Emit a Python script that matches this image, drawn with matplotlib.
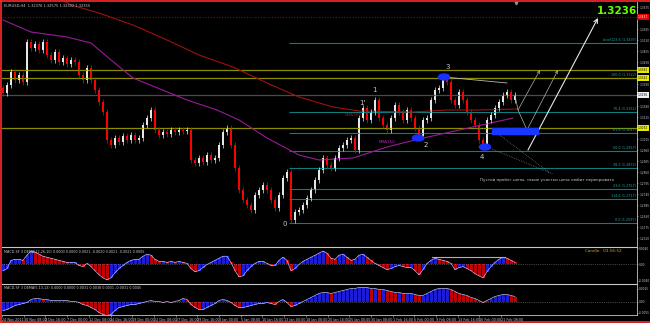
import numpy as np
import matplotlib.pyplot as plt
from matplotlib.patches import Ellipse, Rectangle
from matplotlib.lines import Line2D

plt.rcParams['font.family'] = ['DejaVu Sans']

############################# Data #############################

# EURUSD H4 closes (one candle drawn for every ~2.6 H4 bars of the screenshot)
v_close = [1.3247, 1.3287, 1.3352, 1.3312, 1.3337, 1.3302, 1.3502, 1.3472, 1.3492, 1.3462,
           1.3502, 1.3437, 1.3412, 1.3452, 1.3402, 1.3422, 1.3392, 1.3412, 1.3402, 1.3337,
           1.3312, 1.3372, 1.3312, 1.3262, 1.3202, 1.3152, 1.3012, 1.2987, 1.3022, 1.3002,
           1.3032, 1.3012, 1.3037, 1.3012, 1.3022, 1.3087, 1.3122, 1.3162, 1.3062, 1.3037,
           1.3052, 1.3042, 1.3062, 1.3052, 1.3062, 1.3057, 1.3062, 1.2912, 1.2897, 1.2922,
           1.2902, 1.2937, 1.2912, 1.2922, 1.2987, 1.3052, 1.3072, 1.2987, 1.2872, 1.2762,
           1.2712, 1.2687, 1.2662, 1.2737, 1.2762, 1.2787, 1.2762, 1.2712, 1.2672, 1.2737,
           1.2822, 1.2852, 1.2612, 1.2652, 1.2662, 1.2687, 1.2722, 1.2762, 1.2812, 1.2862,
           1.2922, 1.2887, 1.2872, 1.2922, 1.2972, 1.2987, 1.3012, 1.3022, 1.2962, 1.3122,
           1.3172, 1.3112, 1.3152, 1.3212, 1.3122, 1.3087, 1.3062, 1.3122, 1.3187, 1.3152,
           1.3112, 1.3162, 1.3122, 1.3072, 1.3032, 1.3112, 1.3122, 1.3212, 1.3262, 1.3272,
           1.3312, 1.3302, 1.3212, 1.3187, 1.3252, 1.3212, 1.3152, 1.3112, 1.3087, 1.3012,
           1.2987, 1.3112, 1.3137, 1.3172, 1.3202, 1.3237, 1.3252, 1.3212, 1.3236]
c_first_open = 1.3272

# MACD histograms (upper and lower sub-windows)
v_macd_1 = [-0.0015, -0.0010, 0.0010, 0.00125, 0.00125, 0.0010, 0.00225, 0.00325, 0.0030, 0.0025,
            0.0020, 0.00175, 0.0015, 0.00125, 0.0010, 0.00075, 0.0005, 0.0005, 0.0005, -0.00025,
            -0.0005, 0.00025, -0.0005, -0.0015, -0.0025, -0.00325, -0.00375, -0.00325, -0.0020, -0.0010,
            -0.00025, 0.0005, 0.0010, 0.00125, 0.00125, 0.0020, 0.0025, 0.00225, 0.00125, 0.00075,
            0.00075, 0.0005, 0.00075, 0.0005, 0.00075, 0.0005, 0.00025, -0.0010, -0.00175, -0.0015,
            -0.00075, 0.0, 0.0005, 0.0010, 0.0015, 0.0020, 0.0020, 0.0005, -0.0015, -0.0030,
            -0.00275, -0.0015, -0.0005, 0.00025, 0.00075, 0.00075, 0.00025, -0.00025, -0.00025, 0.0010,
            0.00175, 0.0010, -0.0015, -0.0010, 0.0, 0.00075, 0.00125, 0.00175, 0.00225, 0.00275,
            0.00325, 0.00275, 0.0015, 0.00125, 0.00225, 0.0025, 0.00175, 0.0010, 0.00125, 0.00225,
            0.0025, 0.00175, 0.0010, 0.00025, -0.00025, -0.00075, -0.00125, -0.0010, -0.0005, -0.00025,
            -0.0005, -0.00075, -0.00075, -0.0015, -0.0025, -0.00125, 0.00025, 0.0010, 0.0015, 0.00125,
            0.0010, 0.00075, 0.00025, -0.00125, -0.00075, -0.0005, -0.0010, -0.0015, -0.00225, -0.00275,
            -0.00325, -0.00175, -0.0005, 0.0005, 0.00125, 0.00175, 0.0015, 0.0010, 0.0005]
v_macd_2 = [-0.0045, -0.0040, -0.0030, -0.0020, -0.0015, -0.0010, -0.0005, 0.0010, 0.0015, 0.0015,
            0.0010, 0.0010, 0.0005, 0.0005, 0.0005, 0.0005, 0.0005, 0.0, 0.0, -0.0005,
            -0.0015, -0.0020, -0.0030, -0.0040, -0.0055, -0.0065, -0.0070, -0.0065, -0.0045, -0.0030,
            -0.0025, -0.0020, -0.0015, -0.0015, -0.0010, -0.0005, 0.0, 0.0005, 0.0, 0.0,
            -0.0005, 0.0, -0.0005, 0.0, 0.0005, 0.0015, 0.0010, -0.0015, -0.0030, -0.0040,
            -0.0040, -0.0030, -0.0020, -0.0010, 0.0005, 0.0010, 0.0005, -0.0005, -0.0020, -0.0030,
            -0.0030, -0.0025, -0.0020, -0.0015, -0.0010, -0.0010, -0.0005, -0.0010, -0.0015, 0.0,
            0.0010, -0.0005, -0.0025, -0.0020, -0.0010, 0.0, 0.0010, 0.0020, 0.0030, 0.0040,
            0.0045, 0.0045, 0.0040, 0.0045, 0.0050, 0.0055, 0.0060, 0.0065, 0.0065, 0.0070,
            0.0070, 0.0070, 0.0065, 0.0065, 0.0060, 0.0060, 0.0055, 0.0050, 0.0045, 0.0045,
            0.0040, 0.0040, 0.0040, 0.0035, 0.0030, 0.0030, 0.0040, 0.0050, 0.0060, 0.0065,
            0.0065, 0.0065, 0.0060, 0.0050, 0.0040, 0.0035, 0.0030, 0.0020, 0.0015, 0.0005,
            -0.0005, 0.0005, 0.0015, 0.0025, 0.0030, 0.0035, 0.0035, 0.0030, 0.0025]

# moving averages, read at a few candles (candle index, price)
v_ema365_idx = [14, 17, 24, 32.5, 41, 49, 57.5, 66, 74, 82.5, 89, 102.5, 111, 119, 128.5]
v_ema365 = [1.3722, 1.3687, 1.3647, 1.3587, 1.3512, 1.3437, 1.3377, 1.3297, 1.3227, 1.3177,
            1.3157, 1.3152, 1.3162, 1.3162, 1.3167]
v_ema150_idx = [0, 7, 16, 22, 27, 32.5, 46, 53.5, 59, 66, 74, 79, 87.5, 96, 104, 127.5]
v_ema150 = [1.3612, 1.3552, 1.3527, 1.3497, 1.3412, 1.3322, 1.3212, 1.3162, 1.3112, 1.3022,
            1.2937, 1.2912, 1.2922, 1.2977, 1.3017, 1.3122]

# Fibonacci grid
v_fib_levels = ['0.0', '14.6', '23.6', '38.2', '50.0', '61.8', '76.4', '100.0', '123.6']
v_fib_prices = [1.2597, 1.2717, 1.2767, 1.2872, 1.2957, 1.3047, 1.3152, 1.3322, 1.3497]
c_fib_start = 71.5

# horizontal levels
v_olive_levels = [1.3362, 1.3322, 1.3072]
c_red_level = 1.3627
c_bid = 1.3236

# wave marking
v_wave_labels = ['0', "1'", '1', '2', '3', '4']
v_wave_idx = [70.5, 89.75, 92.75, 105.75, 111.25, 119.75]
v_wave_price = [1.2592, 1.3197, 1.3262, 1.2987, 1.3377, 1.2927]
v_ell_idx = [103.75, 110.25, 120.5]
v_ell_price = [1.3022, 1.3327, 1.2977]

# date axis
v_dates = ['24 Nov 2011', '30 Nov 08:00', '2 Dec 16:00', '7 Dec 00:00', '12 Dec 08:00',
           '14 Dec 16:00', '19 Dec 00:00', '22 Dec 08:00', '27 Dec 16:00', '29 Dec 16:00',
           '3 Jan 00:00', '5 Jan 08:00', '10 Jan 16:00', '13 Jan 00:00', '18 Jan 08:00',
           '20 Jan 16:00', '25 Jan 00:00', '30 Jan 08:00', '1 Feb 16:00', '6 Feb 00:00',
           '9 Feb 08:00', '13 Feb 16:00', '16 Feb 00:00', '21 Feb 08:00']
c_date_step = 5.425

############################# Figure #############################

W, H = 650, 323
c_fg = '#c8c8c8'
c_xmin, c_xmax = -0.25, 158.5

fig = plt.figure(figsize=(W / 100, H / 100), dpi=100, facecolor='black')


def px_axes(x0, y0, x1, y1):
    return fig.add_axes([x0 / W, 1 - y1 / H, (x1 - x0) / W, (y1 - y0) / H], facecolor='black')


ax = px_axes(2, 2, 637, 246)
ax1 = px_axes(2, 247, 637, 283)
ax2 = px_axes(2, 284, 637, 315)

for a in (ax, ax1, ax2):
    a.set_xlim(c_xmin, c_xmax)
    for s in ('left', 'top', 'bottom'):
        a.spines[s].set_visible(False)
    a.spines['right'].set_color(c_fg)
    a.spines['right'].set_linewidth(0.6)
    a.yaxis.tick_right()
    a.tick_params(axis='y', labelsize=2.1, colors=c_fg, length=1, width=0.4, pad=0.6)
    a.tick_params(axis='x', bottom=False, labelbottom=False)
for a in (ax1, ax2):
    a.spines['top'].set_visible(True)
    a.spines['top'].set_color(c_fg)
    a.spines['top'].set_linewidth(0.8)

############################# Main chart #############################

v_marked = [c_red_level] + v_olive_levels + [c_bid]
ax.set_ylim(1.2482, 1.3702)
v_ticks = [t for t in np.arange(1.2520, 1.3700, 0.0055)
           if min(abs(t - m) for m in v_marked) > 0.0026]
ax.set_yticks(v_ticks)
ax.yaxis.set_major_formatter(plt.FormatStrFormatter('%.4f'))

# levels
ax.axhline(c_red_level, color='#a00000', lw=0.8, ls=(0, (1, 1.5)))
ax.hlines(v_fib_prices, c_fib_start, c_xmax, color='#0e7c7c', lw=0.8)
for lvl, p in zip(v_fib_levels, v_fib_prices):
    ax.text(c_xmax - 0.3, p + 0.0004, f'{lvl} ({p:.4f})', ha='right', va='bottom',
            fontsize=2.4, color='#1fa5a5')
ax.text(150, v_fib_prices[-1] + 0.0004, 'Level', ha='left', va='bottom', fontsize=2.4, color='#1fa5a5')
ax.text(152, v_fib_prices[1] + 0.0004, '1', fontsize=2.4, color='#1fa5a5', va='bottom')
for p in v_olive_levels:
    ax.axhline(p, color='#8c8c00', lw=0.9)
ax.axhline(c_bid, color='#4a4a4a', lw=0.9)

# moving averages
ax.plot(v_ema365_idx, v_ema365, color='#a01010', lw=0.8)
ax.plot(v_ema150_idx, v_ema150, color='#9a1a9a', lw=0.8)
ax.text(85.5, 1.3137, 'EMA365', fontsize=3, color='#b01010', va='center')
ax.text(94, 1.3002, 'EMA150', fontsize=3, color='#c020c0', va='center')

# candles
x = np.arange(len(v_close))
v_c = np.array(v_close)
v_o = np.array([c_first_open] + v_close[:-1])
lo = np.minimum(v_o, v_c)
hi = np.maximum(v_o, v_c)
col = np.where(v_c >= v_o, '#e6e6e6', '#ff0000')
ax.vlines(x, lo - 0.0017, hi + 0.0017, colors=col, lw=0.5)
ax.bar(x, np.maximum(hi - lo, 0.0002), bottom=lo, width=0.65, color=col, lw=0)

# wave points
for i, p in zip(v_ell_idx, v_ell_price):
    ax.add_patch(Ellipse((i, p), 2.8, 0.003, color='#1830ff', zorder=4))
for t, i, p in zip(v_wave_labels, v_wave_idx, v_wave_price):
    ax.text(i, p, t, fontsize=5, color=c_fg, ha='center', va='center')
ax.plot([110.25, 126], [1.3327, 1.3297], color='#b8b8b8', lw=0.6)

# projected moves
ax.add_patch(Rectangle((122.25, 1.3042), 11.5, 0.003, color='#1838ff', zorder=4))
ax.plot([128, 128.75, 131], [1.3236, 1.3162, 1.3062], color='#b0b0b0', lw=0.5)
arrow = dict(arrowstyle='->', color='#b0b0b0', lw=0.5, shrinkA=0, shrinkB=0, mutation_scale=5)
ax.annotate('', xy=(134.25, 1.3362), xytext=(128.75, 1.3162), arrowprops=arrow)
ax.annotate('', xy=(138.75, 1.3362), xytext=(131, 1.3062), arrowprops=arrow)
ax.annotate('', xy=(148.75, 1.3622), xytext=(131.25, 1.2962),
            arrowprops=dict(arrowstyle='->', color='#e8e8e8', lw=0.8, shrinkA=0, shrinkB=0,
                            mutation_scale=7))
ax.plot([121, 137.5], [1.2977, 1.2842], color='#909090', lw=0.5, ls=':')
ax.plot([123.5, 136.75], [1.3047, 1.2847], color='#909090', lw=0.5, ls=':')
ax.text(119.25, 1.2812, 'Пустой пробег цены, такие участки цена любит перекрывать',
        fontsize=3, color=c_fg, va='center')

# texts
ax.text(0.003, 0.993, 'EURUSD,H4  1.32376 1.32575 1.32302 1.32355', transform=ax.transAxes,
        va='top', fontsize=2.6, color=c_fg)
ax.plot(128.25, 1.3697, marker='v', ms=2, color='#909090', clip_on=False)
fig.text(637 / W, 1 - 10.5 / H, f'{c_bid:.4f}', ha='right', va='center', fontsize=7.5,
         weight='bold', color='#66ff00')

# highlighted price labels on the scale
for p, fc, tc in zip(v_marked,
                     ['#e00000', '#e8e800', '#e8e800', '#e8e800', '#f0f0f0'],
                     ['white', 'black', 'black', 'black', 'black']):
    ax.annotate(f'{p:.4f}', xy=(1, p), xycoords=('axes fraction', 'data'), xytext=(0.8, 0),
                textcoords='offset points', fontsize=2.1, color=tc, va='center', ha='left',
                bbox=dict(boxstyle='square,pad=0.25', fc=fc, ec='none'), annotation_clip=False)

############################# MACD windows #############################

for a, v, lim, ticks, lab, title in (
        (ax1, v_macd_1, (-0.0045, 0.00425), [0.0040, 0.0, -0.0040], ['0.0040', '0.00', '-0.0040'],
         'MACD-SF 3 DEMA(12,26,10) 0.0000 0.0000 0.0021 -0.0020 0.0021 -0.0021 0.0005'),
        (ax2, v_macd_2, (-0.00675, 0.00875), [0.0065, 0.0, -0.0055], ['0.0065', '0.00', '-0.0055'],
         'MACD-SF 3 DEMA(5,13,13) 0.0000 0.0000 0.0031 0.0038 0.0031 -0.0031 0.0045')):
    v = np.array(v)
    rising = np.diff(v, prepend=v[0] - 1) >= 0
    a.set_ylim(*lim)
    a.axhline(0, color='#808080', lw=0.5, ls=':')
    a.bar(x, v, width=0.75, color=np.where(rising, '#1c1cd8', '#c00000'), lw=0)
    a.plot(x, v, color='#b8c0ff', lw=0.5)
    a.set_yticks(ticks, lab)
    a.text(0.003, 0.93, title, transform=a.transAxes, va='top', fontsize=2.4, color=c_fg)

ax1.plot([107.25, 125.5], [0.00175, 0.00175], color='#b0b0b0', lw=0.8)
ax1.text(145.5, 0.00325, 'Candle:  03:56:52', fontsize=3, color='#d4a017', va='center')

ax2.spines['bottom'].set_visible(True)
ax2.spines['bottom'].set_color(c_fg)
ax2.spines['bottom'].set_linewidth(0.6)
ax2.set_xticks(np.arange(len(v_dates)) * c_date_step - 0.25, v_dates, fontsize=2.4, color=c_fg,
               ha='left')
ax2.tick_params(axis='x', bottom=True, labelbottom=True, length=1.5, width=0.4, colors=c_fg, pad=1)

# window border
for xs, ys in (([0, 1], [0.998, 0.998]), ([0.0015, 0.0015], [0, 1]), ([0, 1], [0.002, 0.002])):
    fig.add_artist(Line2D(xs, ys, transform=fig.transFigure, color='#ff2a2a', lw=1.2))

fig.savefig('out.png', dpi=100, facecolor='black')
